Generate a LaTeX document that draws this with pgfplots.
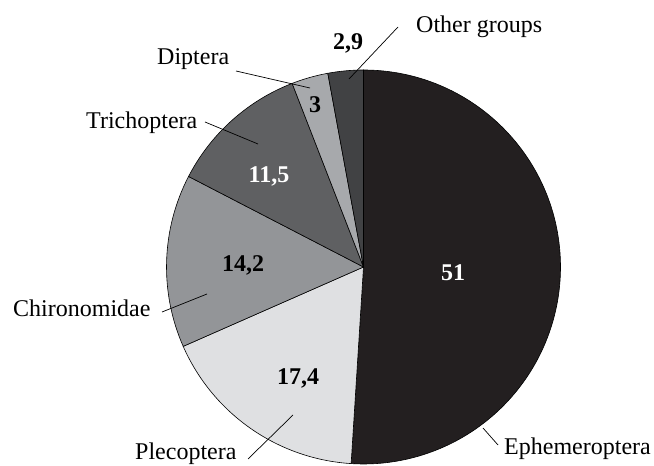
\documentclass[border=0pt]{standalone}
\usepackage{fontspec}
\setmainfont{Liberation Serif}
\usepackage{pgfplots}
\usepackage{pgfplotstable}
\pgfplotsset{compat=1.18}
\definecolor{cEph}{HTML}{231F20}
\definecolor{cPle}{HTML}{DFE0E2}
\definecolor{cChi}{HTML}{939598}
\definecolor{cTri}{HTML}{5F6062}
\definecolor{cDip}{HTML}{A7A9AC}
\definecolor{cOth}{HTML}{414244}
\newcommand\lbl{\fontsize{24}{28}\selectfont}
\newcommand\val{\fontsize{24}{28}\selectfont\bfseries}
\pgfplotstableread[col sep=comma]{
label,value
Ephemeroptera,51
Plecoptera,17.4
Chironomidae,14.2
Trichoptera,11.5
Diptera,3
Other groups,2.9
}\piedata
\begin{document}
\begin{tikzpicture}
\begin{axis}[
  name=ax,
  anchor=south west, at={(0,0)},
  width=654pt, height=466pt, scale only axis,
  xmin=0, xmax=654, ymin=0, ymax=466,
  hide axis, clip=false,
]
\pgfplotsextra{
  \gdef\startang{90}
  \foreach \i/\col in {0/cEph,1/cPle,2/cChi,3/cTri,4/cDip,5/cOth}{
    \pgfplotstablegetelem{\i}{value}\of\piedata
    \pgfmathsetmacro\endang{\startang-3.6*\pgfplotsretval}
    \filldraw[fill=\col, draw=black, line width=0.6pt]
      (axis cs:363.5,199) -- ++(\startang:197pt)
      arc[start angle=\startang, end angle=\endang, radius=197pt] -- cycle;
    \xdef\startang{\endang}
  }
  % leader lines
  \draw[line width=0.7pt] (axis cs:398,439) -- (axis cs:349,387);
  \draw[line width=0.7pt] (axis cs:236,395) -- (axis cs:310,378);
  \draw[line width=0.7pt] (axis cs:205,344) -- (axis cs:258,322);
  \draw[line width=0.7pt] (axis cs:162,154) -- (axis cs:207,172);
  \draw[line width=0.7pt] (axis cs:248,7) -- (axis cs:293,51);
  \draw[line width=0.7pt] (axis cs:483,38) -- (axis cs:498,21);
  % category labels
  \node[anchor=base west, inner sep=0pt, font=\lbl] at (axis cs:416,433) {Other groups};
  \node[anchor=base west, inner sep=0pt, font=\lbl] at (axis cs:157,401) {Diptera};
  \node[anchor=base west, inner sep=0pt, font=\lbl] at (axis cs:86,337) {Trichoptera};
  \node[anchor=base west, inner sep=0pt, font=\lbl] at (axis cs:13,149) {Chironomidae};
  \node[anchor=base west, inner sep=0pt, font=\lbl] at (axis cs:135,6.5) {Plecoptera};
  \node[anchor=base west, inner sep=0pt, font=\lbl] at (axis cs:504,11) {Ephemeroptera};
  % value labels
  \node[anchor=base, inner sep=0pt, font=\val] at (axis cs:348,416) {2,9};
  \node[anchor=base, inner sep=0pt, font=\val] at (axis cs:315,353) {3};
  \node[anchor=base, inner sep=0pt, font=\val, text=white] at (axis cs:269,283) {11,5};
  \node[anchor=base, inner sep=0pt, font=\val] at (axis cs:243,194) {14,2};
  \node[anchor=base, inner sep=0pt, font=\val] at (axis cs:298,81) {17,4};
  \node[anchor=base, inner sep=0pt, font=\val, text=white] at (axis cs:453,185) {51};
}
\end{axis}
\pgfresetboundingbox
\useasboundingbox (0,0) rectangle (654pt,466pt);
\end{tikzpicture}
\end{document}
